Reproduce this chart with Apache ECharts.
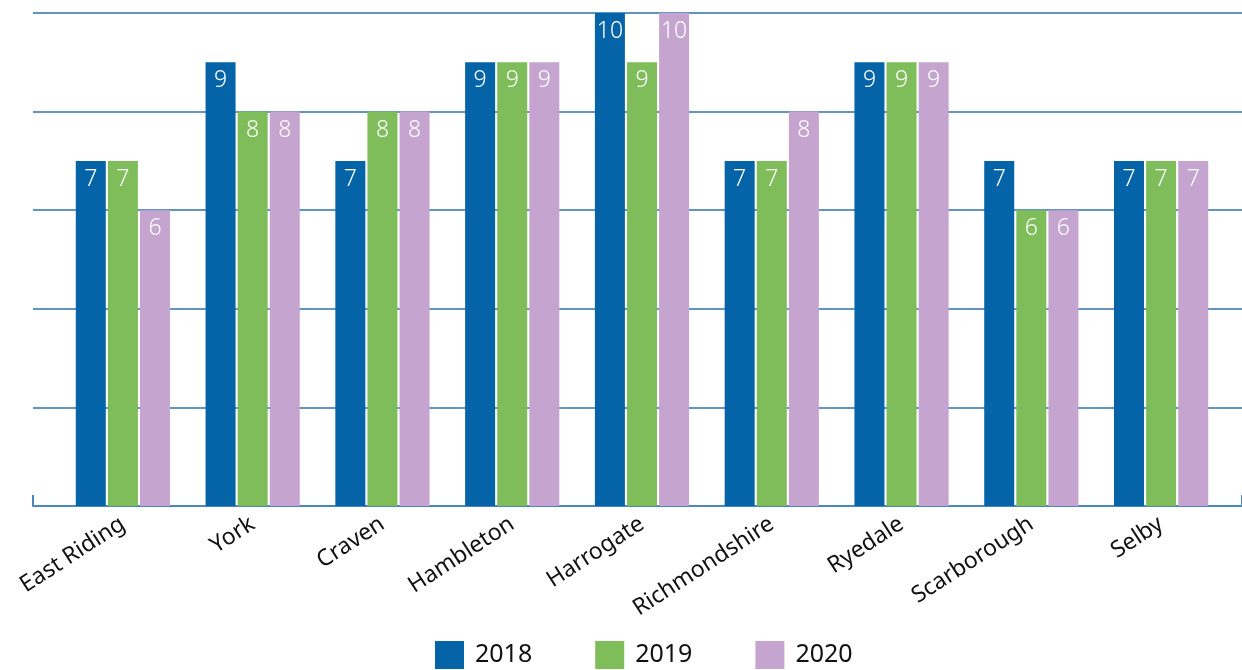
<!DOCTYPE html>
<html><head><meta charset="utf-8">
<script src="https://cdn.jsdelivr.net/npm/echarts@6/dist/echarts.min.js"></script>
<style>html,body{margin:0;padding:0;background:#fff}#c{width:1242px;height:670px}</style>
</head><body><div id="c"></div>
<script>
const categories = ['East Riding','York','Craven','Hambleton','Harrogate','Richmondshire','Ryedale','Scarborough','Selby'];
const s2018 = [7,9,7,9,10,7,9,7,7];
const s2019 = [7,8,8,9,9,7,9,6,7];
const s2020 = [6,8,8,9,10,8,9,6,7];
const seriesNames = ['2018','2019','2020'];
const colors = ['#0563a8','#7fbc5a','#c5a5cf'];
const FONT = '"Noto Sans", "DejaVu Sans", sans-serif';

const chart = echarts.init(document.getElementById('c'), null, {renderer:'canvas'});
const mk = (name, data, i) => ({
  name, type:'bar', data, xAxisIndex:0, yAxisIndex:0,
  barWidth:30, barGap:'7%',
  itemStyle:{color:colors[i]},
  label:{show:true, position:'insideTop', distance:7, color:'#fff', fontSize:23, fontFamily:FONT, fontWeight:300}
});
chart.setOption({
  animation:false,
  color:colors,
  grid:[
    {left:58, right:16, top:13, bottom:164, containLabel:false},
    {left:33, right:0, top:13, bottom:164, containLabel:false}
  ],
  xAxis:[
    {type:'category', gridIndex:0, data:categories,
     axisLine:{show:false}, axisTick:{show:false},
     axisLabel:{rotate:33, margin:16, fontSize:23, color:'#111', fontFamily:FONT, interval:0}},
    {type:'category', gridIndex:1, data:[''],
     axisLine:{show:true, lineStyle:{color:'#4a86c0', width:2}},
     axisTick:{show:true, inside:true, length:11, lineStyle:{color:'#4a86c0', width:2}},
     axisLabel:{show:false}}
  ],
  yAxis:[
    {type:'value', gridIndex:0, min:0, max:10, interval:2, show:false, splitLine:{show:false}},
    {type:'value', gridIndex:1, min:0, max:10, interval:2,
     axisLine:{show:false}, axisTick:{show:false}, axisLabel:{show:false},
     splitLine:{show:true, lineStyle:{color:'#2f70ad', width:1.5}}}
  ],
  legend:{bottom:-4, left:430, itemWidth:29, itemHeight:28, itemGap:63,
    icon:'rect', textStyle:{fontSize:25, color:'#111', fontFamily:FONT, padding:[0,0,0,6]},
    data:seriesNames},
  series:[
    {type:'bar', xAxisIndex:1, yAxisIndex:1, data:[], silent:true},
    mk(seriesNames[0], s2018, 0),
    mk(seriesNames[1], s2019, 1),
    mk(seriesNames[2], s2020, 2)
  ]
});
</script></body></html>
